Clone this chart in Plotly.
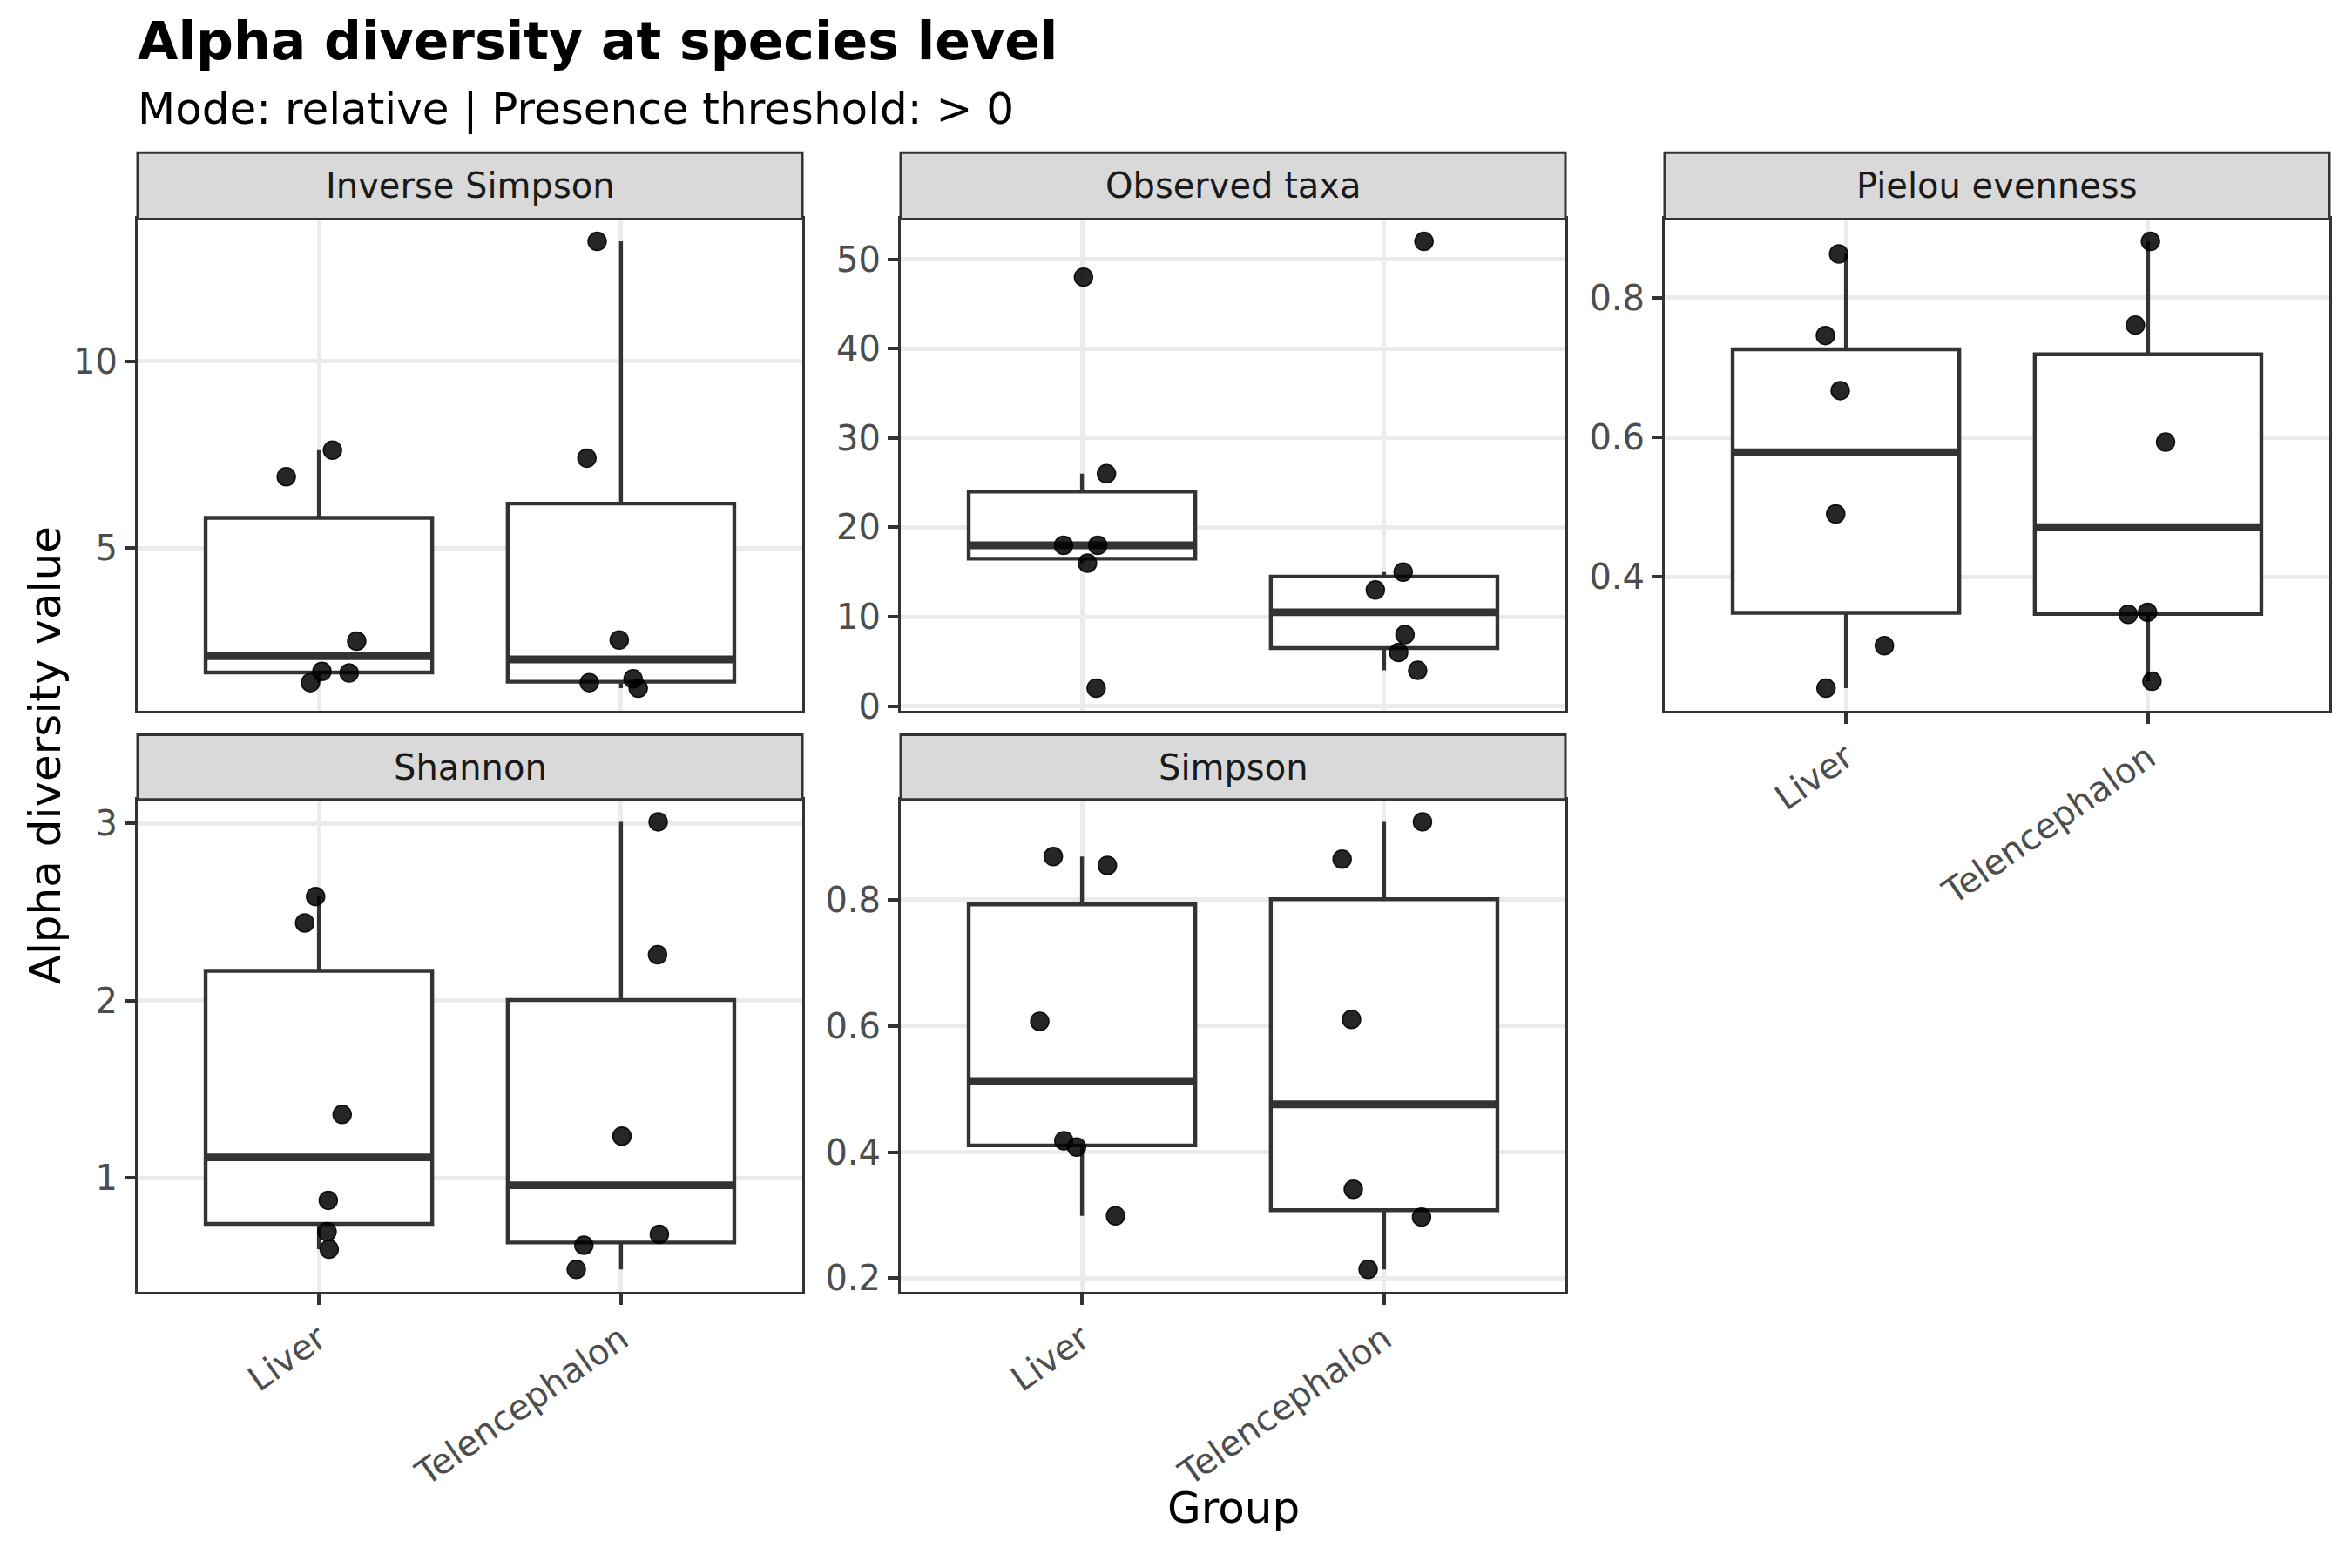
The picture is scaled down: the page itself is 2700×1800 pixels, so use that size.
import numpy as np
import plotly.graph_objects as go

# ---------------- data ----------------
groups = ["Liver", "Telencephalon"]
metrics = ["Inverse Simpson", "Observed taxa", "Pielou evenness", "Shannon", "Simpson"]

inv_simpson_liver = [6.91, 7.62, 2.52, 1.71, 1.67, 1.41]
inv_simpson_tel = [13.2, 7.41, 2.55, 1.41, 1.51, 1.26]
observed_liver = [48, 26, 18, 18, 16, 2]
observed_tel = [52, 15, 13, 8, 6, 4]
pielou_liver = [0.863, 0.746, 0.667, 0.490, 0.301, 0.240]
pielou_tel = [0.881, 0.761, 0.593, 0.346, 0.349, 0.250]
shannon_liver = [2.587, 2.438, 1.358, 0.874, 0.697, 0.598]
shannon_tel = [3.008, 2.259, 1.236, 0.682, 0.621, 0.484]
simpson_liver = [0.868, 0.854, 0.607, 0.418, 0.408, 0.299]
simpson_tel = [0.923, 0.864, 0.610, 0.341, 0.297, 0.214]

# horizontal jitter of each point (category units)
jit_inv_liver = [-0.108, 0.045, 0.125, 0.010, 0.100, -0.028]
jit_inv_tel = [-0.079, -0.113, -0.006, -0.105, 0.040, 0.057]
jit_obs_liver = [0.005, 0.081, -0.061, 0.052, 0.018, 0.047]
jit_obs_tel = [0.132, 0.063, -0.029, 0.069, 0.048, 0.111]
jit_pie_liver = [-0.024, -0.068, -0.019, -0.034, 0.127, -0.066]
jit_pie_tel = [0.008, -0.042, 0.058, -0.066, -0.002, 0.013]
jit_sha_liver = [-0.011, -0.047, 0.077, 0.031, 0.027, 0.034]
jit_sha_tel = [0.123, 0.121, 0.003, 0.127, -0.123, -0.148]
jit_sim_liver = [-0.095, 0.084, -0.140, -0.060, -0.018, 0.111]
jit_sim_tel = [0.127, -0.139, -0.108, -0.102, 0.124, -0.053]

ticks_inv = [5, 10]
ticks_obs = [0, 10, 20, 30, 40, 50]
ticks_pie = [0.4, 0.6, 0.8]
ticks_sha = [1, 2, 3]
ticks_sim = [0.2, 0.4, 0.6, 0.8]
ticklabels_inv = ["5", "10"]
ticklabels_obs = ["0", "10", "20", "30", "40", "50"]
ticklabels_pie = ["0.4", "0.6", "0.8"]
ticklabels_sha = ["1", "2", "3"]
ticklabels_sim = ["0.2", "0.4", "0.6", "0.8"]

title = "Alpha diversity at species level"
subtitle = "Mode: relative | Presence threshold: > 0"
xlab = "Group"
ylab = "Alpha diversity value"

panels = [
    (metrics[0], [inv_simpson_liver, inv_simpson_tel], [jit_inv_liver, jit_inv_tel], ticks_inv, ticklabels_inv),
    (metrics[1], [observed_liver, observed_tel], [jit_obs_liver, jit_obs_tel], ticks_obs, ticklabels_obs),
    (metrics[2], [pielou_liver, pielou_tel], [jit_pie_liver, jit_pie_tel], ticks_pie, ticklabels_pie),
    (metrics[3], [shannon_liver, shannon_tel], [jit_sha_liver, jit_sha_tel], ticks_sha, ticklabels_sha),
    (metrics[4], [simpson_liver, simpson_tel], [jit_sim_liver, jit_sim_tel], ticks_sim, ticklabels_sim),
]

# ---------------- layout geometry (pixels) ----------------
W, H = 2700, 1800
col_x = [(158, 921), (1034, 1797), (1911, 2674)]
row_strip = [(177, 254), (852, 927)]
row_plot = [(254, 824), (927, 1498)]
grid_pos = [(0, 0), (0, 1), (0, 2), (1, 0), (1, 1)]
bottom_panels = {2, 3, 4}

FONT = "DejaVu Sans"
DARK = "#333333"
GRID = "#EBEBEB"
TICKTXT = "#4D4D4D"
BOXW = 0.75


def px2x(p):
    return p / W


def px2y(p):
    return 1 - p / H


def box_stats(v):
    a = np.asarray(v, dtype=float)
    q1, med, q3 = np.percentile(a, [25, 50, 75])
    iqr = q3 - q1
    lo = a[a >= q1 - 1.5 * iqr].min()
    hi = a[a <= q3 + 1.5 * iqr].max()
    return q1, med, q3, lo, hi


fig = go.Figure()
layout = dict(
    width=W, height=H,
    margin=dict(l=0, r=0, t=0, b=0),
    paper_bgcolor="white", plot_bgcolor="white",
    showlegend=False,
    font=dict(family=FONT, color="black"),
    shapes=[], annotations=[],
)

for k, (name, data, jits, tvals, ttext) in enumerate(panels):
    r, c = grid_pos[k]
    idx = "" if k == 0 else str(k + 1)
    xa, ya = "x" + idx, "y" + idx
    positions = [1, 2]

    stats = [box_stats(d) for d in data]
    fig.add_trace(go.Box(
        x=positions,
        q1=[s[0] for s in stats], median=[s[1] for s in stats], q3=[s[2] for s in stats],
        lowerfence=[s[3] for s in stats], upperfence=[s[4] for s in stats],
        width=BOXW, whiskerwidth=0, boxpoints=False,
        fillcolor="white", line=dict(color=DARK, width=4.4),
        xaxis=xa, yaxis=ya, hoverinfo="skip",
    ))
    mx, my = [], []
    for p, s in zip(positions, stats):
        mx += [p - BOXW / 2, p + BOXW / 2, None]
        my += [s[1], s[1], None]
    fig.add_trace(go.Scatter(x=mx, y=my, mode="lines",
                             line=dict(color=DARK, width=8.9),
                             xaxis=xa, yaxis=ya, hoverinfo="skip"))
    px_, py_ = [], []
    for p, d, j in zip(positions, data, jits):
        px_ += [p + jj for jj in j]
        py_ += list(d)
    fig.add_trace(go.Scatter(x=px_, y=py_, mode="markers",
                             marker=dict(size=21, color="rgba(0,0,0,0.85)",
                                         line=dict(color="rgba(0,0,0,0.9)", width=1.5)),
                             xaxis=xa, yaxis=ya, hoverinfo="skip"))

    allv = np.concatenate([np.asarray(d, float) for d in data])
    vmin, vmax = allv.min(), allv.max()
    pad = 0.05 * (vmax - vmin)

    x0, x1 = col_x[c]
    y0, y1 = row_plot[r]
    is_bottom = k in bottom_panels
    layout["xaxis" + idx] = dict(
        domain=[px2x(x0), px2x(x1)], anchor=ya, range=[0.4, 2.6],
        tickmode="array", tickvals=positions, ticktext=groups,
        showticklabels=is_bottom, ticks="outside" if is_bottom else "",
        ticklen=12, tickwidth=4.4, tickcolor=DARK, tickangle=-35,
        tickfont=dict(size=40, color=TICKTXT, family=FONT),
        showgrid=True, gridcolor=GRID, gridwidth=4.8, zeroline=False,
        showline=True, linecolor=DARK, linewidth=3, mirror=True, fixedrange=True,
    )
    layout["yaxis" + idx] = dict(
        domain=[px2y(y1), px2y(y0)], anchor=xa, range=[vmin - pad, vmax + pad],
        tickmode="array", tickvals=tvals, ticktext=ttext,
        ticks="outside", ticklen=12, tickwidth=4.4, tickcolor=DARK,
        tickfont=dict(size=40, color=TICKTXT, family=FONT),
        showgrid=True, gridcolor=GRID, gridwidth=4.8, zeroline=False,
        showline=True, linecolor=DARK, linewidth=3, mirror=True, fixedrange=True,
    )

    s0, s1 = row_strip[r]
    layout["shapes"].append(dict(
        type="rect", xref="paper", yref="paper",
        x0=px2x(x0), x1=px2x(x1), y0=px2y(s1), y1=px2y(s0),
        fillcolor="#D9D9D9", line=dict(color=DARK, width=3), layer="above",
    ))
    layout["annotations"].append(dict(
        text=name, xref="paper", yref="paper",
        x=px2x((x0 + x1) / 2), y=px2y((s0 + s1) / 2),
        xanchor="center", yanchor="middle", showarrow=False,
        font=dict(size=40, color="#1A1A1A", family=FONT),
    ))

layout["annotations"] += [
    dict(text="<b>" + title + "</b>", xref="paper", yref="paper",
         x=px2x(156), y=px2y(47), xanchor="left", yanchor="middle", showarrow=False,
         font=dict(size=60, color="black", family=FONT)),
    dict(text=subtitle, xref="paper", yref="paper",
         x=px2x(156), y=px2y(126), xanchor="left", yanchor="middle", showarrow=False,
         font=dict(size=50, color="black", family=FONT)),
    dict(text=ylab, xref="paper", yref="paper", textangle=-90,
         x=px2x(52), y=px2y(876), xanchor="center", yanchor="middle", showarrow=False,
         font=dict(size=50, color="black", family=FONT)),
    dict(text=xlab, xref="paper", yref="paper",
         x=px2x(1416), y=px2y(1748), xanchor="center", yanchor="middle", showarrow=False,
         font=dict(size=50, color="black", family=FONT)),
]

fig.update_layout(**layout)
fig.write_html("out.html")
